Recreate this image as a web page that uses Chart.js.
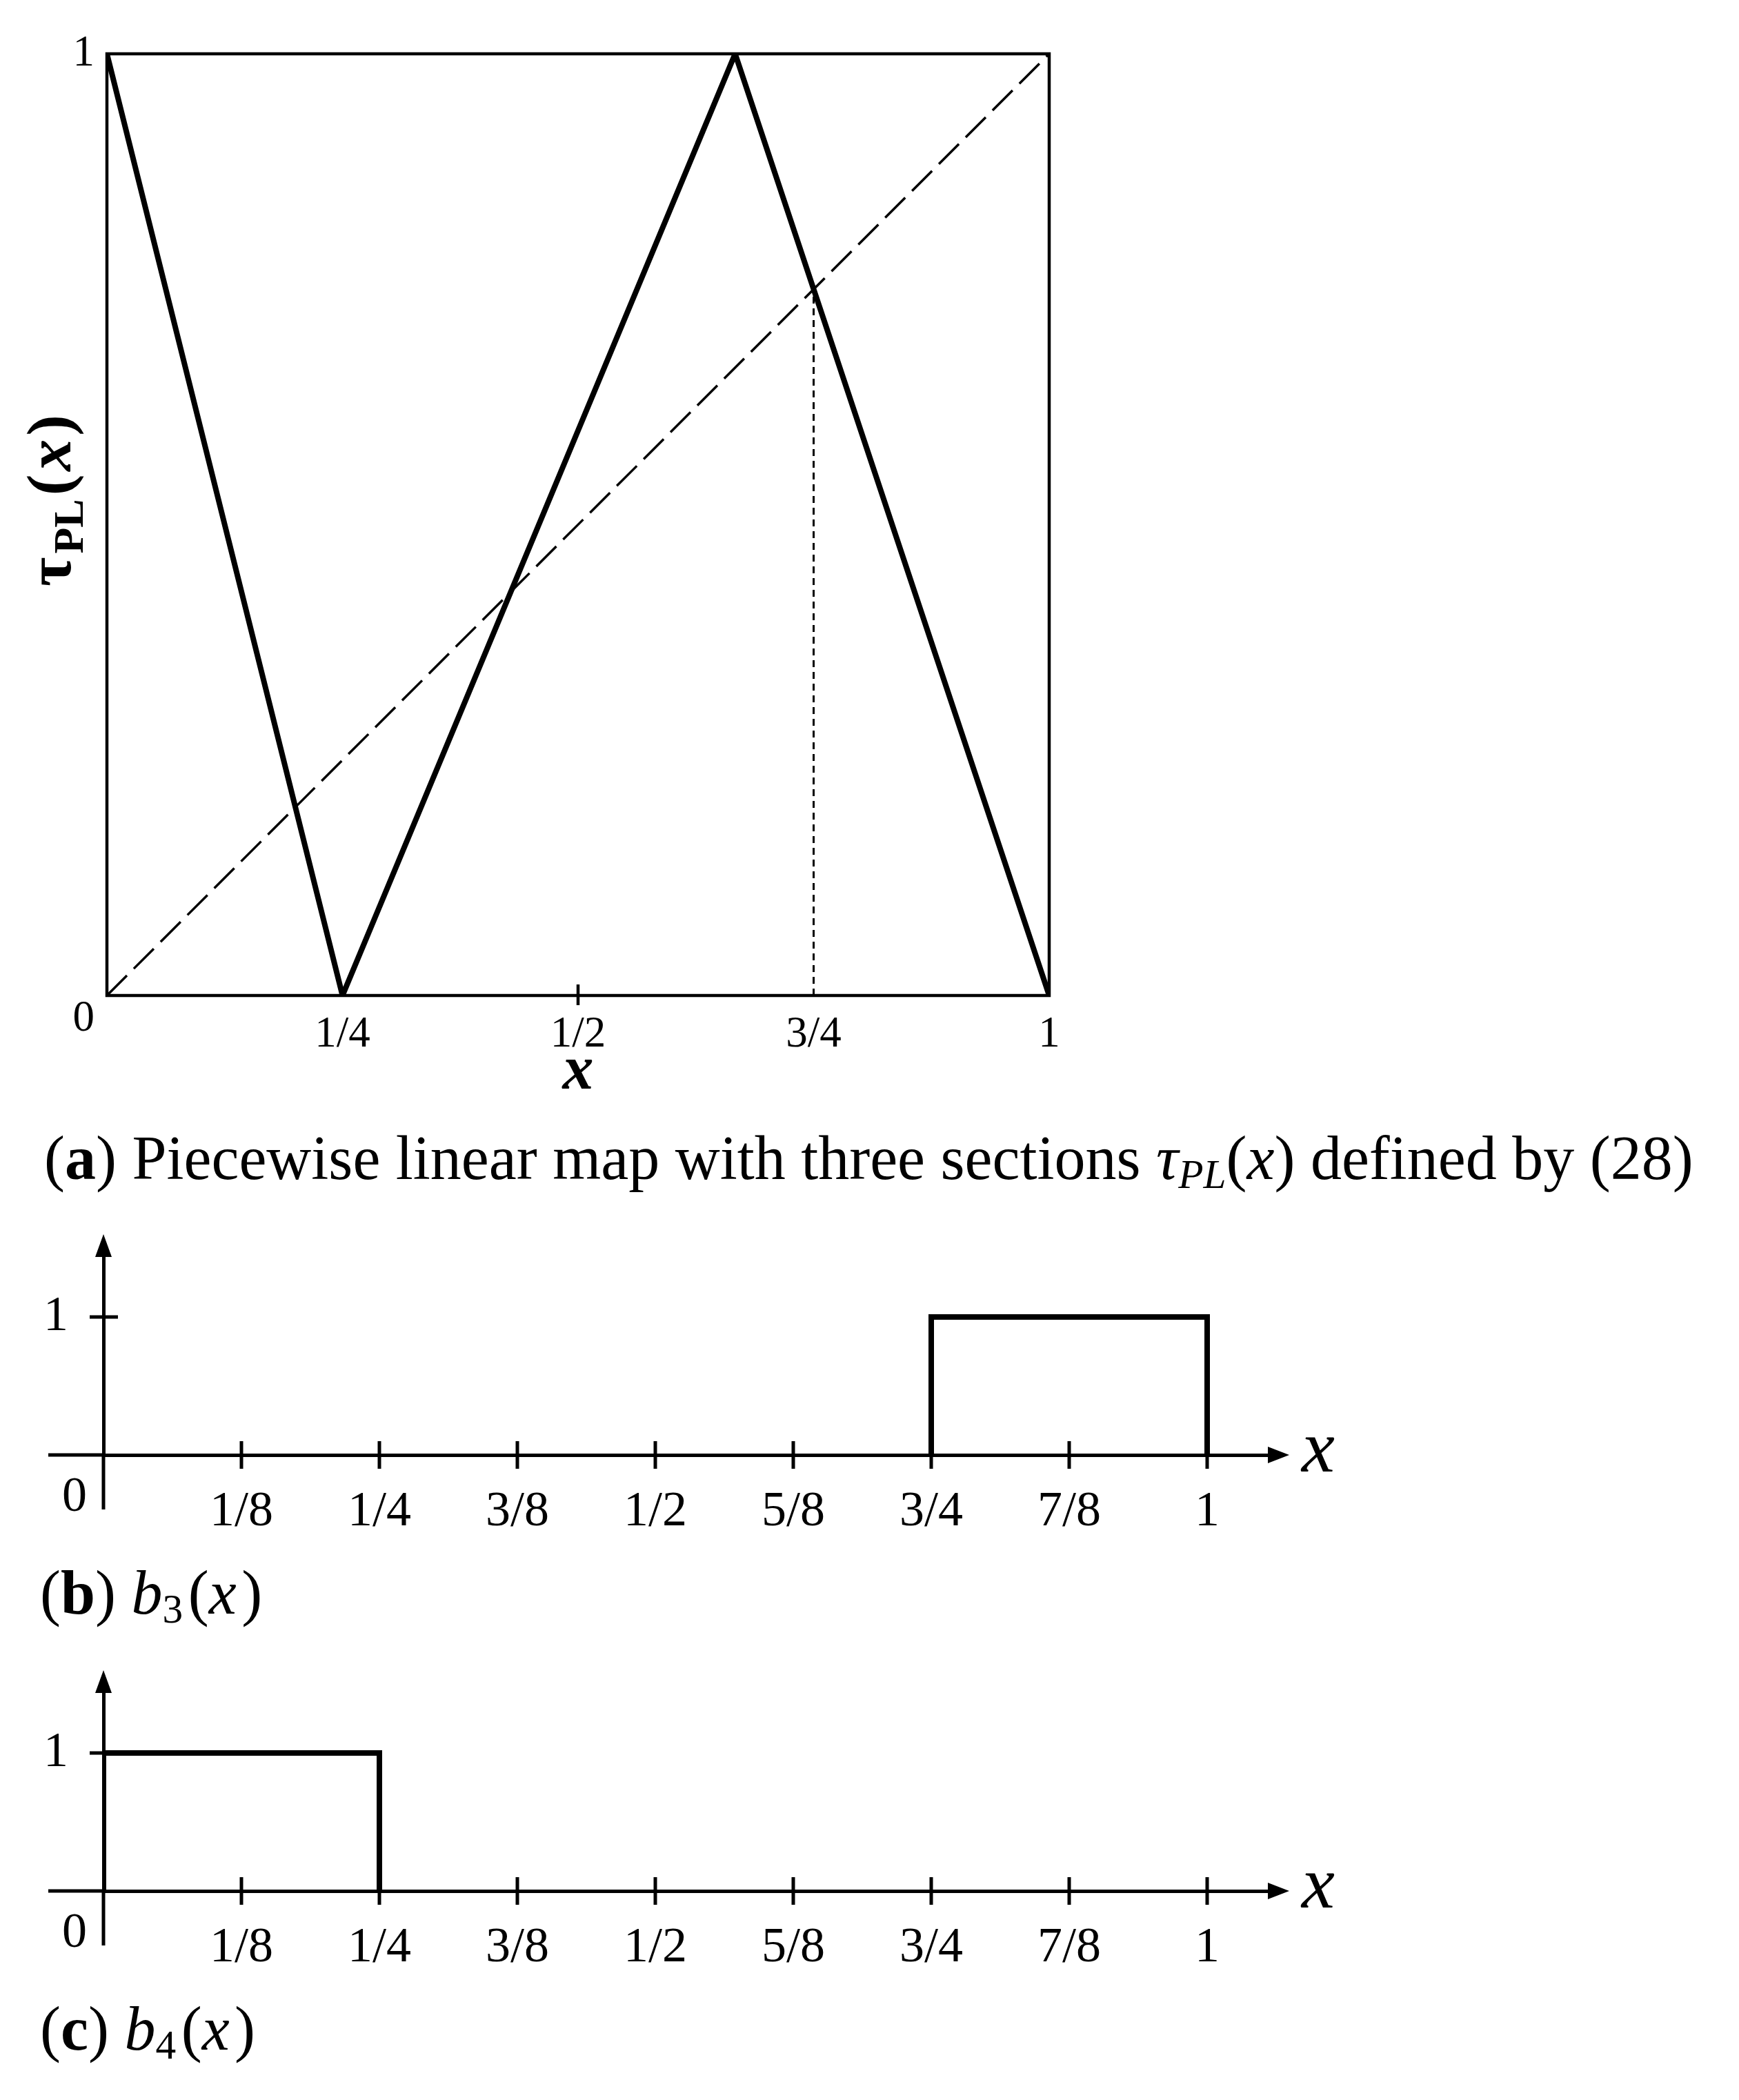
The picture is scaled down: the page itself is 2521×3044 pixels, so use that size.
<!DOCTYPE html>
<html>
<head>
<meta charset="utf-8">
<style>
body { margin: 0; background: #fff; width: 2521px; height: 3044px; position: relative; overflow: hidden; }
canvas { position: absolute; left: 0; }
.cap { position: absolute; font-family: 'Liberation Serif', serif; font-size: 90px; line-height: 1; color: #000; white-space: nowrap; }
.cap sub { font-size: 0.66em; vertical-align: -0.22em; line-height: 0; }
</style>
</head>
<body>

<canvas id="chartMap" width="1600" height="1620" style="top:0px"></canvas>
<canvas id="chartB3" width="2100" height="560" style="top:1700px"></canvas>
<canvas id="chartB4" width="2100" height="560" style="top:2332px"></canvas>

<div class="cap" style="left:64px; top:1634px">(<b>a</b>) Piecewise linear map with three sections <i>τ<sub>PL</sub></i>(<i>x</i>) defined by (28)</div>
<div class="cap" style="left:58px; top:2264px">(<b>b</b>) <i>b</i><sub>3</sub>&#8202;(<i>x</i>&#8202;)</div>
<div class="cap" style="left:58px; top:2896px">(<b>c</b>) <i>b</i><sub>4</sub>&#8202;(<i>x</i>&#8202;)</div>

<script src="https://cdn.jsdelivr.net/npm/chart.js"></script>
<script>
// (a) the map tau_PL and its helper lines
const mapX = [0, 0.25, 0.6667, 1];
const mapY = [1, 0, 1, 0];
const diagX = [0, 1];
const diagY = [0, 1];
const fixX = [0.75, 0.75];
const fixY = [0, 0.75];
const mapTicks = [0.25, 0.5, 0.75, 1];
const mapTickLabels = ['1/4', '1/2', '3/4', '1'];
const mapYTicks = [0, 1];
const mapYTickLabels = ['0', '1'];

// (b), (c) indicator functions b3, b4
const b3X = [0.75, 0.75, 1, 1];
const b3Y = [0, 1, 1, 0];
const b4X = [0, 0, 0.25, 0.25];
const b4Y = [0, 1, 1, 0];
const basisTicks = [0.125, 0.25, 0.375, 0.5, 0.625, 0.75, 0.875, 1];
const basisTickLabels = ['1/8', '1/4', '3/8', '1/2', '5/8', '3/4', '7/8', '1'];
const basisYTicks = [1];
const basisYTickLabels = ['1'];

const SERIF = '"Liberation Serif", serif';

function pts(xs, ys) {
    return xs.map((x, i) => ({x: x, y: ys[i]}));
}

const mapFrame = {
    id: 'mapFrame',
    beforeDatasetsDraw(chart) {
        const {ctx, chartArea: a, scales: {x}} = chart;
        ctx.save();
        ctx.strokeStyle = '#000';
        ctx.lineWidth = 4.5;
        ctx.strokeRect(a.left, a.top, a.right - a.left, a.bottom - a.top);
        // only the 1/2 tick shows in the original
        const px = x.getPixelForValue(0.5);
        ctx.beginPath();
        ctx.moveTo(px, a.bottom - 16);
        ctx.lineTo(px, a.bottom + 14);
        ctx.stroke();
        ctx.restore();
    },
    afterDraw(chart) {
        // y title tau_PL(x), rotated, with subscript
        const ctx = chart.ctx;
        const parts = [
            {t: 'τ', f: 'bold 92px ' + SERIF, dy: 0},
            {t: 'PL', f: 'bold 62px ' + SERIF, dy: 18},
            {t: '(', f: 'bold 92px ' + SERIF, dy: 0},
            {t: 'x', f: 'italic bold 92px ' + SERIF, dy: 0},
            {t: ')', f: 'bold 92px ' + SERIF, dy: 0}
        ];
        ctx.save();
        let total = 0;
        parts.forEach(p => { ctx.font = p.f; p.w = ctx.measureText(p.t).width + 5; total += p.w; });
        ctx.translate(102, 723);
        ctx.rotate(-Math.PI / 2);
        ctx.fillStyle = '#000';
        ctx.textBaseline = 'alphabetic';
        let u = -total / 2;
        parts.forEach(p => { ctx.font = p.f; ctx.fillText(p.t, u, p.dy); u += p.w; });
        ctx.restore();
    }
};

new Chart(document.getElementById('chartMap'), {
    type: 'line',
    data: {
        datasets: [
            {data: pts(mapX, mapY), borderColor: '#000', borderWidth: 8, pointRadius: 0, borderJoinStyle: 'miter'},
            {data: pts(diagX, diagY), borderColor: '#000', borderWidth: 3.5, borderDash: [41, 14], pointRadius: 0},
            {data: pts(fixX, fixY), borderColor: '#000', borderWidth: 3, borderDash: [10, 7], pointRadius: 0}
        ]
    },
    options: {
        responsive: false,
        animation: false,
        layout: {padding: {top: 78, right: 79, left: 0, bottom: 0}},
        plugins: {legend: {display: false}, tooltip: {enabled: false}},
        scales: {
            x: {
                type: 'linear', min: 0, max: 1,
                grid: {display: false},
                border: {display: false},
                afterBuildTicks: s => { s.ticks = mapTicks.map(v => ({value: v})); },
                afterFit: s => { s.height = 177; },
                ticks: {
                    callback: v => mapTickLabels[mapTicks.indexOf(v)],
                    color: '#000', padding: 18, maxRotation: 0, autoSkip: false,
                    font: {family: SERIF, size: 63, lineHeight: 1}
                },
                title: {
                    display: true, text: 'x', color: '#000',
                    font: {family: SERIF, size: 90, style: 'italic', weight: 'bold', lineHeight: 1},
                    padding: {top: 0, bottom: 20}
                }
            },
            y: {
                type: 'linear', min: 0, max: 1,
                grid: {display: false},
                border: {display: false},
                afterBuildTicks: s => { s.ticks = mapYTicks.map(v => ({value: v})); },
                afterFit: s => { s.width = 155; },
                ticks: {
                    // the 0 sits half a line below the corner
                    callback: v => v === 0 ? ['', mapYTickLabels[0]] : mapYTickLabels[mapYTicks.indexOf(v)],
                    color: '#000', padding: 10,
                    font: {family: SERIF, size: 63, lineHeight: 1.1}
                }
            }
        }
    },
    plugins: [mapFrame]
});

const basisAxes = {
    id: 'basisAxes',
    afterDraw(chart) {
        const {ctx, chartArea: a, scales: {x, y}} = chart;
        const x0 = x.getPixelForValue(0);
        const y0 = y.getPixelForValue(0);
        ctx.save();
        ctx.strokeStyle = '#000';
        ctx.fillStyle = '#000';
        ctx.lineWidth = 5;
        ctx.beginPath();
        ctx.moveTo(x0 - 80, y0); ctx.lineTo(x0, y0);
        ctx.moveTo(x0, y0); ctx.lineTo(x0, y0 + 79);
        basisTicks.forEach(v => {
            const p = x.getPixelForValue(v);
            ctx.moveTo(p, y0 - 20); ctx.lineTo(p, y0 + 20);
        });
        basisYTicks.forEach(v => {
            const p = y.getPixelForValue(v);
            ctx.moveTo(x0 - 20, p); ctx.lineTo(x0 + 21, p);
        });
        ctx.stroke();
        // arrow heads
        ctx.beginPath();
        ctx.moveTo(a.right + 31, y0); ctx.lineTo(a.right, y0 - 12); ctx.lineTo(a.right, y0 + 12);
        ctx.closePath(); ctx.fill();
        ctx.beginPath();
        ctx.moveTo(x0, a.top - 33); ctx.lineTo(x0 - 12, a.top); ctx.lineTo(x0 + 12, a.top);
        ctx.closePath(); ctx.fill();
        // origin label and axis name
        ctx.textAlign = 'center';
        ctx.textBaseline = 'middle';
        ctx.font = '72px ' + SERIF;
        ctx.fillText('0', x0 - 42, y0 + 62);
        ctx.textBaseline = 'alphabetic';
        ctx.font = 'italic 108px ' + SERIF;
        ctx.fillText('x', a.right + 73, y0 + 24);
        ctx.restore();
    }
};

function basisChart(id, xs, ys) {
    return new Chart(document.getElementById(id), {
        type: 'line',
        data: {
            datasets: [
                {data: pts(xs, ys), borderColor: '#000', borderWidth: 8, pointRadius: 0, borderJoinStyle: 'miter'}
            ]
        },
        options: {
            responsive: false,
            animation: false,
            layout: {padding: {top: 122, right: 262, left: 0, bottom: 0}},
            plugins: {legend: {display: false}, tooltip: {enabled: false}},
            scales: {
                x: {
                    type: 'linear', min: 0, max: 1.055,
                    grid: {display: false},
                    border: {color: '#000', width: 5},
                    afterBuildTicks: s => { s.ticks = basisTicks.map(v => ({value: v})); },
                    afterFit: s => { s.height = 151; },
                    ticks: {
                        callback: v => basisTickLabels[basisTicks.indexOf(v)],
                        color: '#000', padding: 39, maxRotation: 0, autoSkip: false,
                        font: {family: SERIF, size: 72, lineHeight: 1}
                    }
                },
                y: {
                    type: 'linear', min: 0, max: 1.435,
                    grid: {display: false},
                    border: {color: '#000', width: 5},
                    afterBuildTicks: s => { s.ticks = basisYTicks.map(v => ({value: v})); },
                    afterFit: s => { s.width = 150; },
                    ticks: {
                        callback: v => basisYTickLabels[basisYTicks.indexOf(v)],
                        color: '#000', padding: 43,
                        font: {family: SERIF, size: 72, lineHeight: 1}
                    }
                }
            }
        },
        plugins: [basisAxes]
    });
}

basisChart('chartB3', b3X, b3Y);
basisChart('chartB4', b4X, b4Y);
</script>

</body>
</html>
